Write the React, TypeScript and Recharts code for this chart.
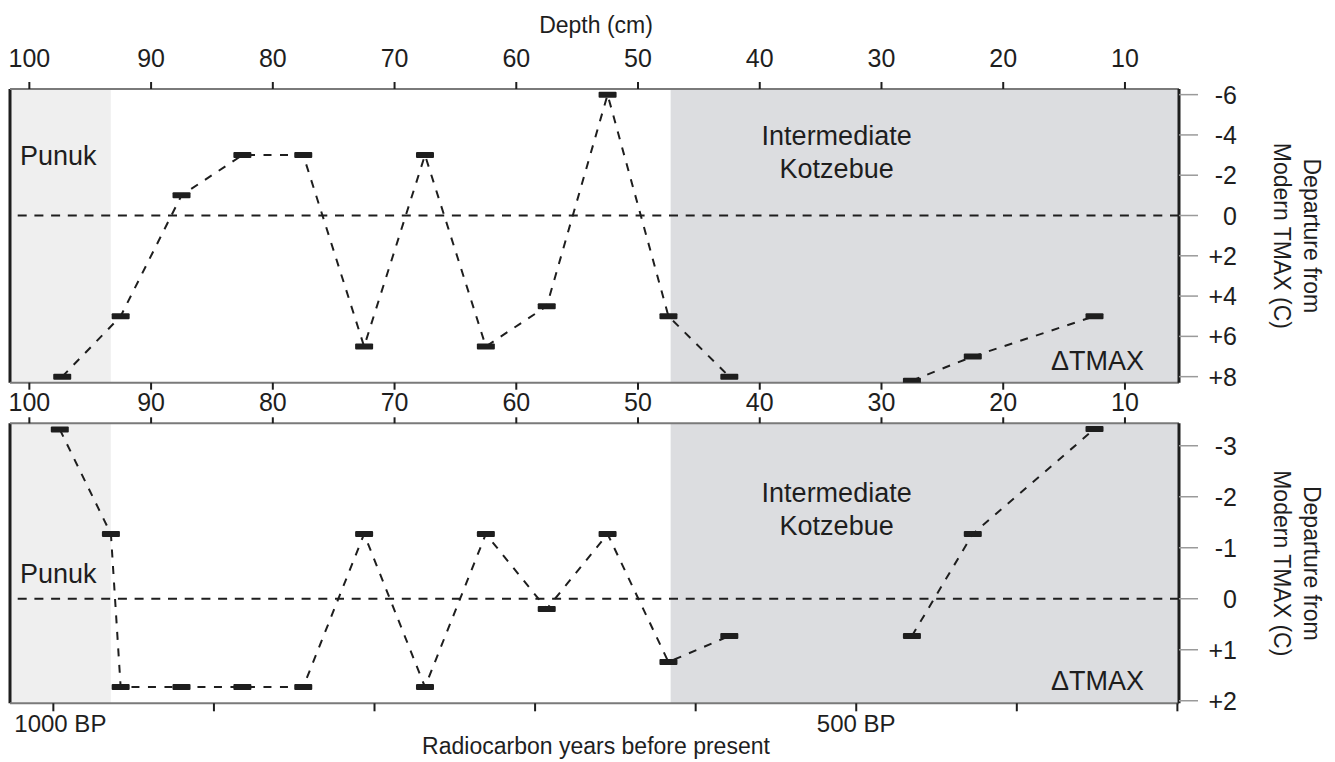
import { LineChart, Line, XAxis, YAxis, ReferenceArea, ReferenceLine } from "recharts";

// depth (cm) of each sample and the TMAX departure;
// the null marks the break in the record between 42.5 and 27.5 cm
const depthUpper = [97.3, 92.5, 87.5, 82.5, 77.5, 72.5, 67.5, 62.5, 57.5, 52.5, 47.5, 42.5, 35, 27.5, 22.5, 12.5];
const tmaxUpper = [8, 5, -1, -3, -3, 6.5, -3, 6.5, 4.5, -6, 5, 8, null, 8.2, 7, 5];

const depthLower = [97.5, 93.3, 92.5, 87.5, 82.5, 77.5, 72.5, 67.5, 62.5, 57.5, 52.5, 47.5, 42.5, 35, 27.5, 22.5, 12.5];
const tmaxLower = [-3.32, -1.27, 1.73, 1.73, 1.73, 1.73, -1.27, 1.73, -1.27, 0.2, -1.27, 1.24, 0.73, null, 0.73, -1.27, -3.33];

const depthTicks = [100, 90, 80, 70, 60, 50, 40, 30, 20, 10];
const bpTicks = [1000, 900, 800, 700, 600, 500, 400, 300];
const upperTicks = [-6, -4, -2, 0, 2, 4, 6, 8];
const lowerTicks = [-3, -2, -1, 0, 1, 2];

const depthDomain: [number, number] = [5.56, 101.59];
const bpDomain: [number, number] = [299, 1027];
const upperDomain: [number, number] = [-6.28, 8.3];
const lowerDomain: [number, number] = [-3.44, 2.05];
const punukZone: [number, number] = [101.59, 93.31];
const kotzebueZone: [number, number] = [47.32, 5.56];

const upperData = depthUpper.map((depth, i) => ({ depth, v: tmaxUpper[i] }));
const lowerData = depthLower.map((depth, i) => ({ depth, v: tmaxLower[i] }));

const FONT = "'Liberation Sans', Arial, Helvetica, sans-serif";
const INK = "#1e1e1e";
const EDGE = "#7a7a7a";

const signed = (v: number) => (v > 0 ? `+${v}` : `${v}`);

const Marker = (props: any) => {
  const { cx, cy, index, value } = props;
  if (cx == null || cy == null || value == null) return <g key={index} />;
  return <rect key={index} x={cx - 9} y={cy - 3} width={18} height={6} rx={1} fill={INK} />;
};

const RightTick = (props: any) => {
  const { x, y, payload } = props;
  return (
    <text x={x + 37} y={y} dy="0.36em" textAnchor="end" fontSize={25} fill={INK}>
      {signed(payload.value)}
    </text>
  );
};

const BpTick = (props: any) => {
  const { x, y, payload } = props;
  const txt = payload.value === 1000 ? "1000 BP" : payload.value === 500 ? "500 BP" : "";
  return (
    <text x={payload.value === 1000 ? x + 7 : x} y={y} dy="0.71em" textAnchor="middle" fontSize={24} fill={INK}>
      {txt}
    </text>
  );
};

const yTitle = (props: any) => {
  const vb = props.viewBox;
  if (!vb) return null;
  const cy = vb.y + vb.height / 2;
  const x1 = vb.x + 125;
  const x2 = vb.x + 94.5;
  return (
    <g fontSize={23} fill={INK}>
      <text x={x1} y={cy} textAnchor="middle" transform={`rotate(90 ${x1} ${cy})`}>
        Departure from
      </text>
      <text x={x2} y={cy} textAnchor="middle" transform={`rotate(90 ${x2} ${cy})`}>
        Modern TMAX (C)
      </text>
    </g>
  );
};

const depthTitle = (props: any) => {
  const vb = props.viewBox;
  if (!vb) return null;
  return (
    <text x={vb.x + vb.width / 2 + 1.5} y={33} textAnchor="middle" fontSize={23} fill={INK}>
      Depth (cm)
    </text>
  );
};

const bpTitle = (props: any) => {
  const vb = props.viewBox;
  if (!vb) return null;
  return (
    <text x={vb.x + vb.width / 2 + 1.5} y={vb.y + 51} textAnchor="middle" fontSize={23} fill={INK}>
      Radiocarbon years before present
    </text>
  );
};

const punukLabel = (dy: number) => (props: any) => {
  const vb = props.viewBox;
  if (!vb) return null;
  return (
    <text x={vb.x + 10} y={vb.y + dy} fontSize={27} fill={INK}>
      Punuk
    </text>
  );
};

const kotzebueLabel = (dy1: number, dy2: number, dy3: number) => (props: any) => {
  const vb = props.viewBox;
  if (!vb) return null;
  return (
    <g fontSize={27} fill={INK}>
      <text x={vb.x + 166} y={vb.y + dy1} textAnchor="middle">
        Intermediate
      </text>
      <text x={vb.x + 166} y={vb.y + dy2} textAnchor="middle">
        Kotzebue
      </text>
      <text x={vb.x + vb.width - 35} y={vb.y + dy3} textAnchor="end">
        ΔTMAX
      </text>
    </g>
  );
};

const lineProps = {
  xAxisId: "d",
  yAxisId: "r",
  type: "linear" as const,
  dataKey: "v",
  stroke: INK,
  strokeWidth: 2,
  strokeDasharray: "8 8.5",
  connectNulls: false,
  dot: Marker,
  activeDot: false as const,
  isAnimationActive: false,
};

// invisible series so that a secondary x axis gets its own scale
const ghost = (axisId: string) => (
  <Line
    xAxisId={axisId}
    yAxisId="r"
    dataKey="v"
    stroke="none"
    dot={false}
    activeDot={false}
    isAnimationActive={false}
  />
);

export default function App() {
  return (
    <div
      style={{
        position: "absolute",
        left: 0,
        top: 0,
        width: 1335,
        height: 762,
        background: "#fff",
        fontFamily: FONT,
      }}
    >
      <div style={{ position: "absolute", left: 0, top: 0 }}>
        <LineChart width={1335} height={415} data={upperData} margin={{ top: 0, right: 0, bottom: 0, left: 10 }}>
          <XAxis
            xAxisId="d"
            orientation="top"
            type="number"
            dataKey="depth"
            domain={depthDomain}
            reversed
            allowDataOverflow
            ticks={depthTicks}
            interval={0}
            height={89}
            tickSize={7}
            tickMargin={15}
            axisLine={{ stroke: EDGE, strokeWidth: 2 }}
            tickLine={{ stroke: INK, strokeWidth: 2 }}
            tick={{ fill: INK, fontSize: 25 }}
            label={depthTitle}
          />
          <XAxis
            xAxisId="d2"
            orientation="bottom"
            type="number"
            dataKey="depth"
            domain={depthDomain}
            reversed
            allowDataOverflow
            ticks={depthTicks}
            interval={0}
            height={32.3}
            tickSize={7}
            tickMargin={3.3}
            axisLine={{ stroke: EDGE, strokeWidth: 2 }}
            tickLine={{ stroke: INK, strokeWidth: 2 }}
            tick={{ fill: INK, fontSize: 25 }}
          />
          <YAxis
            yAxisId="l"
            orientation="left"
            width={0}
            type="number"
            domain={upperDomain}
            reversed
            allowDataOverflow
            tick={false}
            tickLine={false}
            axisLine={{ stroke: INK, strokeWidth: 3 }}
          />
          <YAxis
            yAxisId="r"
            orientation="right"
            width={156}
            type="number"
            domain={upperDomain}
            reversed
            allowDataOverflow
            ticks={upperTicks}
            interval={0}
            tickSize={19}
            tickLine={{ stroke: "#9a9a9a", strokeWidth: 1.5 }}
            axisLine={{ stroke: INK, strokeWidth: 3 }}
            tick={<RightTick />}
            label={yTitle}
          />
          <ReferenceArea
            xAxisId="d"
            yAxisId="r"
            x1={punukZone[0]}
            x2={punukZone[1]}
            fill="#efefef"
            fillOpacity={1}
            stroke="none"
            label={punukLabel(76)}
          />
          <ReferenceArea
            xAxisId="d"
            yAxisId="r"
            x1={kotzebueZone[0]}
            x2={kotzebueZone[1]}
            fill="#dcdde0"
            fillOpacity={1}
            stroke="none"
            label={kotzebueLabel(56, 89.3, 281)}
          />
          <ReferenceLine xAxisId="d" yAxisId="r" x={depthDomain[1]} stroke={INK} strokeWidth={3} />
          <ReferenceLine xAxisId="d" yAxisId="r" y={0} stroke={INK} strokeWidth={2} strokeDasharray="9 7.7" />
          {ghost("d2")}
          <Line {...lineProps} />
        </LineChart>
      </div>

      <div style={{ position: "absolute", left: 0, top: 415 }}>
        <LineChart width={1335} height={347} data={lowerData} margin={{ top: 0, right: 0, bottom: 0, left: 10 }}>
          <XAxis
            xAxisId="d"
            orientation="top"
            type="number"
            dataKey="depth"
            domain={depthDomain}
            reversed
            allowDataOverflow
            ticks={depthTicks}
            interval={0}
            height={8.3}
            tickSize={6}
            tickFormatter={() => ""}
            axisLine={{ stroke: EDGE, strokeWidth: 2 }}
            tickLine={{ stroke: INK, strokeWidth: 2 }}
          />
          <XAxis
            xAxisId="bp"
            orientation="bottom"
            type="number"
            dataKey="depth"
            domain={bpDomain}
            reversed
            allowDataOverflow
            ticks={bpTicks}
            interval={0}
            height={58.7}
            tickSize={8}
            tickMargin={3.7}
            axisLine={{ stroke: EDGE, strokeWidth: 2 }}
            tickLine={{ stroke: INK, strokeWidth: 2 }}
            tick={<BpTick />}
            label={bpTitle}
          />
          <YAxis
            yAxisId="l"
            orientation="left"
            width={0}
            type="number"
            domain={lowerDomain}
            reversed
            allowDataOverflow
            tick={false}
            tickLine={false}
            axisLine={{ stroke: INK, strokeWidth: 3 }}
          />
          <YAxis
            yAxisId="r"
            orientation="right"
            width={156}
            type="number"
            domain={lowerDomain}
            reversed
            allowDataOverflow
            ticks={lowerTicks}
            interval={0}
            tickSize={19}
            tickLine={{ stroke: "#9a9a9a", strokeWidth: 1.5 }}
            axisLine={{ stroke: INK, strokeWidth: 3 }}
            tick={<RightTick />}
            label={yTitle}
          />
          <ReferenceArea
            xAxisId="d"
            yAxisId="r"
            x1={punukZone[0]}
            x2={punukZone[1]}
            fill="#efefef"
            fillOpacity={1}
            stroke="none"
            label={punukLabel(160)}
          />
          <ReferenceArea
            xAxisId="d"
            yAxisId="r"
            x1={kotzebueZone[0]}
            x2={kotzebueZone[1]}
            fill="#dcdde0"
            fillOpacity={1}
            stroke="none"
            label={kotzebueLabel(78.4, 111.7, 266.7)}
          />
          <ReferenceLine xAxisId="d" yAxisId="r" x={depthDomain[1]} stroke={INK} strokeWidth={3} />
          <ReferenceLine xAxisId="d" yAxisId="r" y={0} stroke={INK} strokeWidth={2} strokeDasharray="9 7.7" />
          {ghost("bp")}
          <Line {...lineProps} />
        </LineChart>
      </div>
    </div>
  );
}
